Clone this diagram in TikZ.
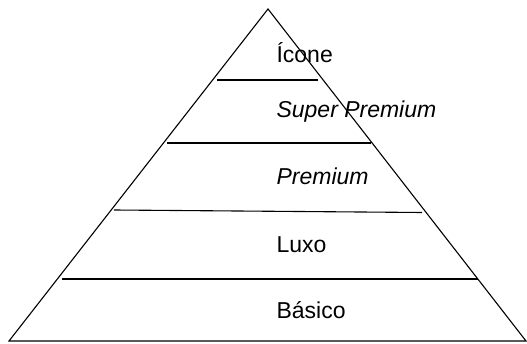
\documentclass[tikz,border=0pt]{standalone}
\usepackage{fontspec}
\setmainfont{Liberation Sans}
\usepackage{tikz}
\usetikzlibrary{positioning, calc}
\tikzset{tier/.style={anchor=base west, inner sep=0pt, font=\fontsize{23}{27}\selectfont}}

\begin{document}
\begin{tikzpicture}
        \begin{scope}[x=1pt, y=-1pt, line width=1.1pt]
            \useasboundingbox (0, 0) rectangle (527, 344);
            \coordinate (apex) at (268, 9);
            \coordinate (baseL) at (9, 341);
            \coordinate (baseR) at (526, 341);
            \draw (baseL) -- (apex) -- (baseR) -- cycle;
            \draw (217, 80) -- (318, 80);
            \draw (167, 143) -- (371, 143);
            \draw (114, 210) -- (422, 212.5);
            \draw (62, 279) -- (478, 279);
            \node[tier] (icone) at (276, 63) {Ícone};
            \node[tier] (superpremium) at (276, 118) {\itshape Super Premium};
            \node[tier] (premium) at (276, 185) {\itshape Premium};
            \node[tier] (luxo) at (276, 253) {Luxo};
            \node[tier] (basico) at (276, 319) {Básico};
        \end{scope}
    \end{tikzpicture}
\end{document}
